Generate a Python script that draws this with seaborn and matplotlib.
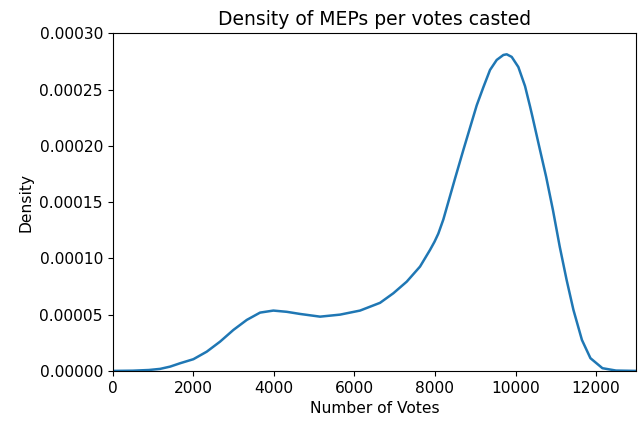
import numpy as np
import pandas as pd
import matplotlib
matplotlib.use("Agg")
import matplotlib.pyplot as plt
import seaborn as sns

# density curve (votes, density)
votes = [0, 500, 900, 1179, 1427, 1675, 2005, 2337, 2667, 2998, 3330, 3660,
         3990, 4322, 4653, 5149, 5645, 6141, 6638, 6968, 7300, 7630, 7878,
         7990, 8084, 8208, 8499, 8705, 9037, 9201, 9367, 9533, 9698, 9781,
         9905, 10070, 10236, 10360, 10419, 10588, 10759, 10928, 11097, 11268,
         11437, 11648, 11859, 12157, 12494, 13000]
density = [0.0, 2e-7, 8e-7, 1.8e-6, 3.8e-6, 6.8e-6, 1.04e-5, 1.71e-5, 2.6e-5,
           3.64e-5, 4.53e-5, 5.18e-5, 5.36e-5, 5.25e-5, 5.06e-5, 4.82e-5,
           5.0e-5, 5.36e-5, 6.05e-5, 6.9e-5, 7.93e-5, 9.27e-5, 1.075e-4,
           1.148e-4, 1.22e-4, 1.345e-4, 1.71e-4, 1.963e-4, 2.36e-4, 2.52e-4,
           2.674e-4, 2.763e-4, 2.807e-4, 2.813e-4, 2.79e-4, 2.70e-4, 2.53e-4,
           2.35e-4, 2.26e-4, 1.993e-4, 1.726e-4, 1.43e-4, 1.104e-4, 8.08e-5,
           5.42e-5, 2.75e-5, 1.13e-5, 2.4e-6, 3e-7, 0.0]

df = pd.DataFrame({"Number of Votes": votes, "Density": density})

plt.rcParams["font.size"] = 11.2
plt.rcParams["axes.titlesize"] = 13.5

fig = plt.figure(figsize=(6.38, 4.21), dpi=100)
ax = fig.add_axes([0.1765, 0.119, 0.821, 0.802])

sns.lineplot(data=df, x="Number of Votes", y="Density", ax=ax,
             color="tab:blue", linewidth=1.8)

ax.set_xlim(0, 13000)
ax.set_ylim(0, 0.0003)
ax.set_title("Density of MEPs per votes casted")
ax.set_xlabel("Number of Votes")
ax.set_ylabel("Density")

fig.savefig("out.png", dpi=100)
